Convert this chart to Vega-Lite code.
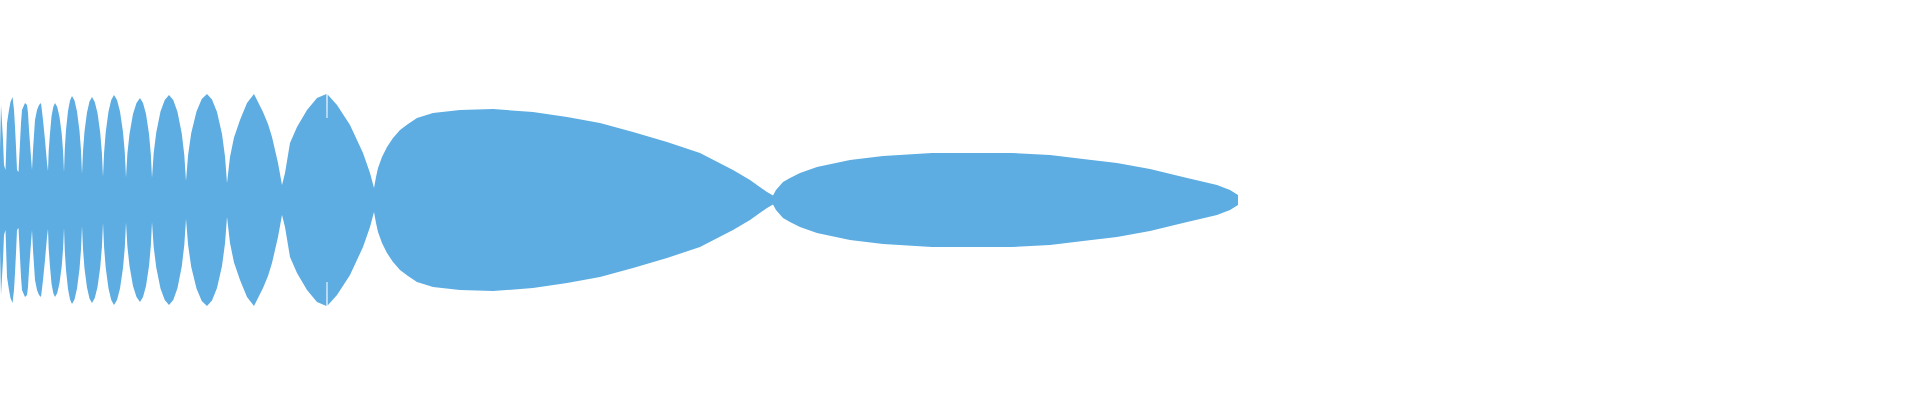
{
  "$schema": "https://vega.github.io/schema/vega-lite/v6.json",
  "width": 1920,
  "height": 400,
  "autosize": {"type": "none"},
  "padding": 0,
  "background": "white",
  "config": {"view": {"stroke": null}},
  "data": {
    "values": [
      {"t": 0, "amp": 100}, {"t": 1, "amp": 190}, {"t": 2, "amp": 154}, {"t": 3, "amp": 120}, {"t": 4, "amp": 70}, {"t": 5.5, "amp": 60},
      {"t": 7, "amp": 154}, {"t": 9, "amp": 180}, {"t": 10.5, "amp": 196}, {"t": 12.5, "amp": 206}, {"t": 14, "amp": 180}, {"t": 15, "amp": 146}, {"t": 16, "amp": 106}, {"t": 17, "amp": 60}, {"t": 18.5, "amp": 56},
      {"t": 20, "amp": 114}, {"t": 21, "amp": 154}, {"t": 22, "amp": 180}, {"t": 25, "amp": 194}, {"t": 27, "amp": 190}, {"t": 28, "amp": 174}, {"t": 29, "amp": 140}, {"t": 31, "amp": 86}, {"t": 32, "amp": 60},
      {"t": 33, "amp": 100}, {"t": 35, "amp": 160}, {"t": 37, "amp": 180}, {"t": 39, "amp": 190}, {"t": 41, "amp": 194}, {"t": 43, "amp": 160}, {"t": 45, "amp": 120}, {"t": 47, "amp": 74}, {"t": 48, "amp": 58},
      {"t": 48.7, "amp": 98}, {"t": 50, "amp": 133}, {"t": 51.5, "amp": 167}, {"t": 53.25, "amp": 186}, {"t": 55, "amp": 194}, {"t": 57.25, "amp": 186}, {"t": 59.5, "amp": 166}, {"t": 61.75, "amp": 132}, {"t": 63.1, "amp": 97}, {"t": 64, "amp": 56},
      {"t": 64.8, "amp": 102}, {"t": 66, "amp": 140}, {"t": 68, "amp": 178}, {"t": 70, "amp": 199}, {"t": 72, "amp": 208}, {"t": 74.5, "amp": 199}, {"t": 77, "amp": 177}, {"t": 79.5, "amp": 138}, {"t": 81, "amp": 99}, {"t": 82, "amp": 52},
      {"t": 83, "amp": 98}, {"t": 84.5, "amp": 137}, {"t": 87, "amp": 175}, {"t": 89.5, "amp": 197}, {"t": 92, "amp": 206}, {"t": 94.75, "amp": 196}, {"t": 97.5, "amp": 174}, {"t": 100.25, "amp": 134}, {"t": 101.9, "amp": 94}, {"t": 103, "amp": 46},
      {"t": 104.1, "amp": 95}, {"t": 105.75, "amp": 136}, {"t": 108.5, "amp": 177}, {"t": 111.25, "amp": 200}, {"t": 114, "amp": 210}, {"t": 117, "amp": 200}, {"t": 120, "amp": 177}, {"t": 123, "amp": 136}, {"t": 124.8, "amp": 95}, {"t": 126, "amp": 45},
      {"t": 127.4, "amp": 93}, {"t": 129.5, "amp": 132}, {"t": 133, "amp": 172}, {"t": 136.5, "amp": 194}, {"t": 140, "amp": 204}, {"t": 143, "amp": 194}, {"t": 146, "amp": 172}, {"t": 149, "amp": 132}, {"t": 150.8, "amp": 92}, {"t": 152, "amp": 44},
      {"t": 153.7, "amp": 94}, {"t": 156.25, "amp": 135}, {"t": 160.5, "amp": 177}, {"t": 164.75, "amp": 200}, {"t": 169, "amp": 210}, {"t": 173.25, "amp": 200}, {"t": 177.5, "amp": 176}, {"t": 181.75, "amp": 133}, {"t": 184.3, "amp": 90}, {"t": 186, "amp": 38},
      {"t": 188.1, "amp": 90}, {"t": 191.25, "amp": 134}, {"t": 196.5, "amp": 177}, {"t": 201.75, "amp": 202}, {"t": 207, "amp": 212}, {"t": 212, "amp": 201}, {"t": 217, "amp": 176}, {"t": 222, "amp": 132}, {"t": 225, "amp": 87}, {"t": 227, "amp": 34},
      {"t": 230, "amp": 86}, {"t": 234, "amp": 125}, {"t": 240, "amp": 160}, {"t": 247, "amp": 194}, {"t": 254, "amp": 212}, {"t": 263, "amp": 176}, {"t": 268, "amp": 152}, {"t": 272, "amp": 126}, {"t": 278, "amp": 74}, {"t": 282, "amp": 30},
      {"t": 285, "amp": 54}, {"t": 290, "amp": 114}, {"t": 297, "amp": 146}, {"t": 307, "amp": 180}, {"t": 317, "amp": 204}, {"t": 326.4, "amp": 212}, {"t": 326.5, "amp": 164}, {"t": 327.5, "amp": 164}, {"t": 327.6, "amp": 211}, {"t": 337, "amp": 190}, {"t": 350, "amp": 150}, {"t": 363, "amp": 94}, {"t": 370, "amp": 54}, {"t": 374, "amp": 24},
      {"t": 376, "amp": 46}, {"t": 378, "amp": 64}, {"t": 382, "amp": 86}, {"t": 387, "amp": 106}, {"t": 393, "amp": 124}, {"t": 400, "amp": 140}, {"t": 408, "amp": 152}, {"t": 417, "amp": 164}, {"t": 433, "amp": 174}, {"t": 460, "amp": 180}, {"t": 493, "amp": 182}, {"t": 533, "amp": 176}, {"t": 567, "amp": 166}, {"t": 600, "amp": 154}, {"t": 633, "amp": 136}, {"t": 667, "amp": 116}, {"t": 700, "amp": 94}, {"t": 733, "amp": 60}, {"t": 750, "amp": 40}, {"t": 767, "amp": 16}, {"t": 773, "amp": 9},
      {"t": 776, "amp": 20}, {"t": 783, "amp": 36}, {"t": 790, "amp": 44}, {"t": 800, "amp": 54}, {"t": 817, "amp": 66}, {"t": 850, "amp": 80}, {"t": 883, "amp": 88}, {"t": 932, "amp": 94}, {"t": 970, "amp": 94}, {"t": 1012, "amp": 94}, {"t": 1050, "amp": 90}, {"t": 1083, "amp": 82}, {"t": 1117, "amp": 74}, {"t": 1150, "amp": 62}, {"t": 1183, "amp": 46}, {"t": 1217, "amp": 30}, {"t": 1230, "amp": 20}, {"t": 1238, "amp": 10}
    ]
  },
  "mark": {"type": "area", "color": "#5DADE2", "interpolate": "linear", "opacity": 1},
  "encoding": {
    "x": {
      "field": "t",
      "type": "quantitative",
      "scale": {"domain": [0, 1920], "nice": false, "zero": false},
      "axis": null
    },
    "y": {
      "field": "amp",
      "type": "quantitative",
      "stack": "center",
      "scale": {"domain": [-94, 306], "nice": false, "zero": false},
      "axis": null
    }
  }
}
